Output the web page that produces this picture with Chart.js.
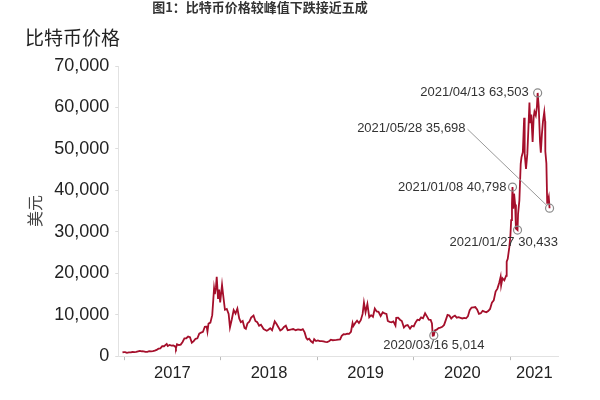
<!DOCTYPE html>
<html>
<head>
<meta charset="utf-8">
<script src="https://cdn.jsdelivr.net/npm/chart.js@4"></script>
<style>
  html, body { margin: 0; padding: 0; background: #fff; }
  #wrap { width: 600px; height: 400px; position: relative; }
</style>
</head>
<body>
<div id="wrap"><canvas id="chart1"></canvas></div>
<script>
// 数据：比特币收盘价（美元），按日期
const dates = [
  "2016-12-26", "2017-01-01", "2017-01-05", "2017-01-12", "2017-01-19", "2017-01-26",
  "2017-02-02", "2017-02-09", "2017-02-16", "2017-02-23", "2017-03-02", "2017-03-09",
  "2017-03-16", "2017-03-23", "2017-03-30", "2017-04-06", "2017-04-13", "2017-04-20",
  "2017-04-27", "2017-05-04", "2017-05-11", "2017-05-18", "2017-05-25", "2017-06-01",
  "2017-06-08", "2017-06-11", "2017-06-15", "2017-06-22", "2017-06-29", "2017-07-06",
  "2017-07-13", "2017-07-16", "2017-07-20", "2017-07-27", "2017-08-03", "2017-08-10",
  "2017-08-17", "2017-08-24", "2017-08-31", "2017-09-07", "2017-09-14", "2017-09-21",
  "2017-09-28", "2017-10-05", "2017-10-12", "2017-10-19", "2017-10-26", "2017-11-02",
  "2017-11-09", "2017-11-12", "2017-11-16", "2017-11-23", "2017-11-30", "2017-12-07",
  "2017-12-10", "2017-12-14", "2017-12-17", "2017-12-22", "2017-12-26", "2017-12-30",
  "2018-01-06", "2018-01-10", "2018-01-17", "2018-01-24", "2018-01-31", "2018-02-05",
  "2018-02-12", "2018-02-19", "2018-02-26", "2018-03-05", "2018-03-12", "2018-03-18",
  "2018-03-25", "2018-04-01", "2018-04-06", "2018-04-12", "2018-04-19", "2018-04-26",
  "2018-05-05", "2018-05-12", "2018-05-19", "2018-05-26", "2018-06-02", "2018-06-12",
  "2018-06-24", "2018-06-30", "2018-07-07", "2018-07-14", "2018-07-24", "2018-07-31",
  "2018-08-07", "2018-08-14", "2018-08-21", "2018-08-28", "2018-09-04", "2018-09-11",
  "2018-09-18", "2018-09-25", "2018-10-02", "2018-10-11", "2018-10-20", "2018-10-31",
  "2018-11-07", "2018-11-14", "2018-11-20", "2018-11-25", "2018-12-01", "2018-12-08",
  "2018-12-15", "2018-12-20", "2018-12-27", "2019-01-03", "2019-01-10", "2019-01-17",
  "2019-01-24", "2019-01-31", "2019-02-07", "2019-02-14", "2019-02-21", "2019-02-28",
  "2019-03-07", "2019-03-14", "2019-03-21", "2019-03-28", "2019-04-03", "2019-04-10",
  "2019-04-17", "2019-04-24", "2019-05-01", "2019-05-08", "2019-05-14", "2019-05-17",
  "2019-05-24", "2019-05-31", "2019-06-07", "2019-06-14", "2019-06-21", "2019-06-26",
  "2019-07-02", "2019-07-09", "2019-07-16", "2019-07-23", "2019-07-30", "2019-08-06",
  "2019-08-13", "2019-08-20", "2019-08-28", "2019-09-05", "2019-09-12", "2019-09-19",
  "2019-09-24", "2019-10-01", "2019-10-08", "2019-10-15", "2019-10-23", "2019-10-26",
  "2019-11-02", "2019-11-09", "2019-11-16", "2019-11-24", "2019-12-01", "2019-12-08",
  "2019-12-17", "2019-12-24", "2019-12-31", "2020-01-07", "2020-01-14", "2020-01-21",
  "2020-01-28", "2020-02-04", "2020-02-12", "2020-02-19", "2020-02-26", "2020-03-04",
  "2020-03-09", "2020-03-12", "2020-03-16", "2020-03-20", "2020-03-27", "2020-04-03",
  "2020-04-10", "2020-04-17", "2020-04-24", "2020-04-30", "2020-05-07", "2020-05-14",
  "2020-05-21", "2020-05-28", "2020-06-04", "2020-06-11", "2020-06-18", "2020-06-25",
  "2020-07-02", "2020-07-09", "2020-07-16", "2020-07-23", "2020-07-30", "2020-08-06",
  "2020-08-13", "2020-08-20", "2020-08-27", "2020-09-03", "2020-09-10", "2020-09-17",
  "2020-09-24", "2020-10-01", "2020-10-08", "2020-10-15", "2020-10-22", "2020-10-29",
  "2020-11-05", "2020-11-12", "2020-11-19", "2020-11-24", "2020-11-26", "2020-12-01",
  "2020-12-08", "2020-12-15", "2020-12-17", "2020-12-21", "2020-12-27", "2020-12-31",
  "2021-01-03", "2021-01-06", "2021-01-08", "2021-01-11", "2021-01-14", "2021-01-18",
  "2021-01-21", "2021-01-27", "2021-01-29", "2021-02-03", "2021-02-08", "2021-02-11",
  "2021-02-16", "2021-02-21", "2021-02-23", "2021-02-28", "2021-03-05", "2021-03-09",
  "2021-03-13", "2021-03-16", "2021-03-20", "2021-03-25", "2021-03-29", "2021-04-01",
  "2021-04-06", "2021-04-10", "2021-04-13", "2021-04-17", "2021-04-22", "2021-04-25",
  "2021-04-29", "2021-05-03", "2021-05-08", "2021-05-11", "2021-05-12", "2021-05-16",
  "2021-05-19", "2021-05-21", "2021-05-25", "2021-05-28",
];

const prices = [
  900, 998, 1000, 800, 900, 915,
  1010, 980, 1035, 1170, 1260, 1190,
  1170, 1040, 1040, 1190, 1170, 1230,
  1330, 1520, 1820, 1890, 2400, 2400,
  2800, 2950, 2440, 2700, 2560, 2610,
  2360, 1930, 2870, 2680, 2800, 3420,
  4300, 4330, 4740, 4600, 3240, 3630,
  4200, 4320, 5430, 5700, 5900, 7100,
  7150, 5950, 7850, 8100, 9900, 16400,
  15000, 16600, 19140, 13830, 16100, 12950,
  17200, 14900, 11200, 11400, 10200, 6950,
  8900, 11100, 10300, 11500, 9100, 8200,
  8500, 6800, 6600, 7900, 8300, 9300,
  9800, 8500, 8200, 7350, 7600, 6550,
  6150, 6400, 6750, 6250, 8400, 7750,
  6980, 6200, 6470, 7060, 7370, 6290,
  6370, 6450, 6550, 6270, 6470, 6320,
  6530, 5740, 4450, 4010, 4210, 3600,
  3250, 4130, 3650, 3800, 3630, 3650,
  3590, 3460, 3400, 3600, 3970, 3850,
  3880, 3930, 4000, 4070, 4900, 5300,
  5250, 5450, 5400, 5900, 8000, 7300,
  8000, 8550, 8000, 8700, 10200, 12900,
  10600, 12600, 9400, 9900, 9500, 11500,
  10800, 10700, 9700, 10600, 10300, 10200,
  8500, 8300, 8200, 8400, 7400, 9250,
  9300, 8800, 8500, 6900, 7400, 7500,
  6650, 7300, 7200, 8150, 8800, 8700,
  9350, 9150, 10350, 9600, 8800, 8750,
  7900, 4970, 5014, 6200, 6400, 6800,
  6900, 7100, 7550, 8650, 9950, 9800,
  9100, 9550, 9800, 9300, 9400, 9250,
  9100, 9250, 9150, 9600, 11100, 11750,
  11800, 11850, 11300, 10200, 10350, 10950,
  10750, 10600, 10900, 11400, 12900, 13450,
  15600, 16300, 17800, 19150, 17100, 18800,
  18300, 19400, 22800, 23500, 26300, 29000,
  32800, 36800, 40798, 35600, 39200, 36600,
  30800, 30433, 34300, 37600, 46400, 48000,
  49200, 57500, 48800, 45200, 48800, 54800,
  61200, 56200, 58300, 51700, 57700, 59000,
  58100, 60000, 63503, 60300, 51700, 49100,
  53500, 56600, 58900, 56700, 49400, 46500,
  37000, 37300, 38400, 35698,
];

// 年份刻度
const years = [2017, 2018, 2019, 2020, 2021];
const xMin = 2016.94;
const xMax = 2021.49;

// 标注点
const annotDates = ["2021-04-13", "2021-05-28", "2021-01-08", "2021-01-27", "2020-03-16"];
const annotValues = [63503, 35698, 40798, 30433, 5014];

// 日期 -> 小数年份
function toYear(d) {
  const [y, m, day] = d.split("-").map(Number);
  const start = Date.UTC(y, 0, 1);
  const end = Date.UTC(y + 1, 0, 1);
  return y + (Date.UTC(y, m - 1, day) - start) / (end - start);
}

// 标签相对圆圈的位置（样式）
const annotStyle = [
  { dx: -9, dy: -1, align: "right" },
  { dx: -84, dy: -80, align: "right", leader: true },
  { dx: -6, dy: 0, align: "right" },
  { dx: -68, dy: 12, align: "left" },
  { dx: 0, dy: 10, align: "center" },
];

const CJK = "'Noto Sans CJK SC', sans-serif";
const NUM = "'Liberation Sans', Arial, sans-serif";

// 标题和标注
const textPlugin = {
  id: "texts",
  afterDraw(chart) {
    const c = chart.ctx;
    c.save();
    c.textBaseline = "middle";
    c.fillStyle = "#333";
    c.font = "bold 13px " + CJK;
    c.textAlign = "center";
    c.fillText("图1：比特币价格较峰值下跌接近五成", 260, 7);
    c.font = "19px " + CJK;
    c.textAlign = "left";
    c.fillStyle = "#222";
    c.fillText("比特币价格", 25, 38);

    const xs = chart.scales.x;
    const ys = chart.scales.y;
    c.font = "13px " + NUM;
    annotDates.forEach(function (d, i) {
      const px = xs.getPixelForValue(toYear(d));
      const py = ys.getPixelForValue(annotValues[i]);
      const st = annotStyle[i];
      const label = d.replace(/-/g, "/") + " " + annotValues[i].toLocaleString("en-US");
      if (st.leader) {
        c.strokeStyle = "#999";
        c.lineWidth = 1;
        c.beginPath();
        c.moveTo(px + st.dx + 2, py + st.dy + 1);
        c.lineTo(px - 3, py - 3);
        c.stroke();
      }
      c.strokeStyle = "#8a8a8a";
      c.lineWidth = 1.2;
      c.beginPath();
      c.arc(px, py, 4, 0, Math.PI * 2);
      c.stroke();
      c.fillStyle = "#333";
      c.textAlign = st.align;
      c.fillText(label, px + st.dx, py + st.dy);
    });
    c.restore();
  },
};

var ctx1 = document.getElementById("chart1").getContext("2d");
var chart1 = new Chart(ctx1, {
  type: "line",
  data: {
    datasets: [
      {
        label: "比特币价格",
        data: dates.map((d, i) => ({ x: toYear(d), y: prices[i] })),
        borderColor: "#a50f2b",
        borderWidth: 1.8,
        pointRadius: 0,
        tension: 0,
        fill: false,
      },
    ],
  },
  options: {
    responsive: true,
    maintainAspectRatio: false,
    animation: false,
    layout: {
      padding: { top: 66, left: 25, right: 42, bottom: 14 },
    },
    plugins: {
      legend: { display: false },
      tooltip: { enabled: false },
    },
    scales: {
      x: {
        type: "linear",
        min: xMin,
        max: xMax,
        afterBuildTicks: function (scale) {
          const t = [];
          years.forEach(function (y) {
            t.push({ value: y });
            t.push({ value: (y + Math.min(y + 1, xMax)) / 2 });
          });
          scale.ticks = t;
        },
        grid: {
          drawOnChartArea: false,
          drawTicks: true,
          tickLength: 4,
          tickColor: (c) => (c.tick && Number.isInteger(c.tick.value) ? "#bbb" : "rgba(0,0,0,0)"),
        },
        border: { display: true, color: "#e2e2e2" },
        ticks: {
          autoSkip: false,
          maxRotation: 0,
          padding: 3,
          color: "#222",
          font: { size: 16.5, family: NUM },
          callback: function (v) {
            return Number.isInteger(v) ? "" : String(Math.floor(v));
          },
        },
      },
      y: {
        min: 0,
        max: 70000,
        grid: {
          drawOnChartArea: false,
          tickLength: 3,
          tickColor: "#ddd",
        },
        border: { display: true, color: "#e2e2e2" },
        ticks: {
          stepSize: 10000,
          padding: 6,
          color: "#222",
          font: { size: 18, family: NUM },
          callback: (v) => v.toLocaleString("en-US"),
        },
        title: {
          display: true,
          text: "美元",
          color: "#444",
          padding: { top: 0, bottom: 4 },
          font: { size: 16, family: CJK },
        },
      },
    },
  },
  plugins: [textPlugin],
});
</script>
</body>
</html>
